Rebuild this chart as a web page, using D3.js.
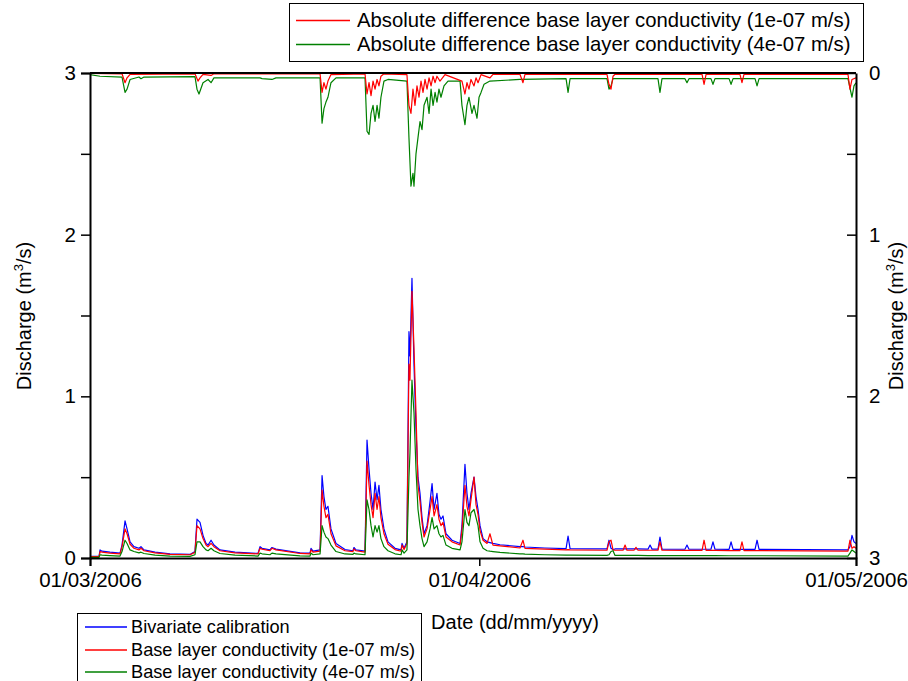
<html><head>
<meta charset="utf-8">
<title>Discharge</title>
<script type="text/javascript" src="https://d3js.org/d3.v7.min.js"></script>
<style>
  body { margin: 0; background: #fff; }
  text { font-family: Arial, "Liberation Sans", sans-serif; }
</style>
</head>
<body>
<div id="chart"></div>
<script>

// ---- data (time in days after 01/03/2006 00:00) ----
var qDay = [0,0.72,0.80,0.96,1.59,2.39,2.55,2.79,2.95,3.19,3.50,3.90,4.06,4.30,5.18,6.37,7.96,8.36,8.52,8.76,9.00,9.24,9.40,9.64,9.87,10.35,11.55,13.38,13.54,13.70,14.33,14.49,14.81,16.72,17.52,17.60,17.76,18.32,18.48,18.63,18.79,18.95,19.19,19.59,20.31,20.94,21.02,21.18,21.90,22.06,22.22,22.38,22.54,22.70,22.86,23.01,23.17,23.41,23.73,24.29,24.77,24.85,25.01,25.24,25.40,25.48,25.64,25.80,25.96,26.12,26.28,26.44,26.60,26.84,27.08,27.24,27.40,27.63,27.79,27.95,28.11,28.35,28.83,29.47,29.62,29.86,30.02,30.18,30.34,30.58,30.74,30.90,31.06,31.30,31.62,31.85,32.09,32.65,34.24,34.48,34.64,36.23,37.91,38.07,38.23,41.17,41.33,41.49,41.65,41.81,42.45,42.61,42.76,43.32,43.48,43.64,44.44,44.60,44.76,45.23,45.39,45.55,47.38,47.54,47.70,48.74,48.90,49.06,49.45,49.61,49.77,50.89,51.05,51.21,51.76,51.92,52.08,52.96,53.12,53.28,60.36,60.52,60.68,60.84,61.00];
var qBiv = [.010,.010,.050,.042,.036,.030,.080,.230,.180,.100,.070,.060,.070,.050,.036,.026,.022,.040,.240,.220,.140,.090,.080,.110,.080,.050,.036,.028,.070,.060,.050,.065,.055,.032,.030,.060,.042,.050,.510,.380,.300,.320,.180,.090,.052,.045,.065,.050,.042,.730,.550,.400,.300,.470,.360,.450,.300,.180,.100,.060,.050,.090,.060,.100,1.400,1.250,1.730,1.200,.800,.500,.400,.250,.150,.200,.350,.460,.300,.400,.270,.240,.260,.150,.110,.090,.200,.580,.400,.300,.400,.500,.380,.300,.200,.120,.100,.095,.090,.082,.070,.070,.068,.062,.058,.135,.058,.056,.110,.060,.052,.056,.056,.056,.056,.056,.056,.056,.055,.080,.055,.055,.130,.055,.054,.080,.054,.054,.054,.054,.054,.100,.054,.053,.100,.053,.053,.053,.053,.053,.110,.053,.050,.070,.140,.100,.090];
var qK1 = [.008,.008,.040,.036,.030,.025,.070,.180,.150,.085,.060,.050,.060,.045,.032,.023,.020,.035,.200,.180,.120,.080,.070,.090,.070,.045,.032,.025,.060,.055,.045,.060,.050,.028,.026,.050,.036,.042,.420,.320,.250,.270,.150,.075,.045,.040,.056,.045,.036,.600,.450,.330,.250,.400,.300,.380,.250,.150,.085,.052,.042,.080,.052,.090,1.200,1.100,1.650,1.300,.900,.450,.350,.220,.130,.180,.300,.380,.260,.330,.240,.200,.220,.130,.100,.080,.170,.450,.320,.260,.360,.500,.330,.270,.170,.110,.090,.150,.080,.075,.062,.110,.060,.055,.050,.052,.050,.048,.100,.110,.050,.048,.048,.080,.048,.048,.066,.048,.048,.048,.048,.048,.100,.048,.047,.047,.047,.047,.110,.047,.047,.047,.047,.046,.046,.046,.046,.100,.046,.046,.046,.046,.042,.110,.060,.070,.060];
var qK4 = [.004,.004,.020,.018,.015,.012,.040,.110,.090,.050,.040,.032,.036,.028,.018,.012,.010,.020,.100,.100,.070,.050,.045,.060,.045,.028,.018,.012,.030,.026,.020,.030,.025,.013,.012,.030,.020,.025,.200,.160,.130,.120,.080,.040,.025,.022,.030,.025,.020,.360,.300,.200,.130,.200,.160,.200,.120,.070,.045,.026,.020,.050,.030,.050,.500,.650,1.100,.900,.550,.300,.200,.120,.070,.100,.180,.250,.180,.200,.150,.130,.140,.080,.060,.050,.100,.300,.220,.200,.280,.300,.250,.200,.100,.060,.045,.042,.040,.035,.025,.025,.024,.020,.018,.018,.018,.016,.020,.040,.045,.016,.016,.016,.016,.016,.016,.016,.015,.015,.015,.015,.015,.015,.015,.015,.015,.015,.015,.015,.015,.015,.015,.014,.014,.014,.014,.014,.014,.014,.014,.014,.012,.030,.050,.040,.030];

// absolute differences (right axis, reversed)
var dDayK4 = [0,0.80,2.55,2.79,2.95,3.19,3.90,4.06,4.30,8.36,8.52,8.68,9.00,9.40,9.64,9.87,13.54,13.70,14.49,14.81,18.32,18.48,18.63,18.79,18.95,19.19,19.59,21.90,22.06,22.22,22.38,22.54,22.70,22.86,23.01,23.17,23.41,23.73,25.24,25.40,25.56,25.72,25.80,25.96,26.12,26.28,26.44,26.60,26.84,27.00,27.16,27.32,27.48,27.63,27.79,27.95,28.19,28.51,29.47,29.62,29.86,30.02,30.18,30.42,30.58,30.82,30.98,31.14,31.38,31.85,34.24,37.91,38.07,38.23,41.17,41.33,41.49,41.65,45.23,45.39,45.55,47.38,47.54,47.70,49.45,49.61,49.77,50.89,51.05,51.21,52.96,53.12,53.28,60.36,60.68,60.84,61.00];
var dK4 = [.010,.020,.025,.120,.100,.040,.025,.035,.025,.022,.100,.130,.060,.040,.060,.030,.030,.035,.040,.030,.030,.310,.220,.180,.150,.060,.030,.030,.360,.380,.250,.200,.300,.200,.280,.150,.050,.040,.050,.400,.700,.620,.700,.500,.400,.300,.350,.200,.150,.250,.100,.200,.120,.180,.100,.150,.080,.050,.050,.200,.320,.200,.150,.250,.200,.280,.150,.120,.070,.050,.040,.035,.120,.035,.035,.100,.080,.035,.035,.120,.035,.035,.060,.035,.035,.070,.035,.035,.070,.035,.035,.080,.035,.035,.150,.080,.060];
var dDayK1 = [0,2.55,2.79,2.95,3.19,8.36,8.60,8.76,9.00,9.64,9.87,18.32,18.48,18.63,18.79,18.95,19.19,21.90,22.06,22.22,22.38,22.54,22.70,22.86,23.01,23.17,23.41,25.24,25.40,25.56,25.72,25.88,26.04,26.20,26.36,26.52,26.68,26.84,27.00,27.16,27.32,27.48,27.63,27.87,28.27,29.62,29.86,30.02,30.18,30.34,30.58,30.74,30.90,31.14,31.85,32.09,34.24,34.48,34.64,41.17,41.33,41.49,41.65,41.81,48.74,48.90,49.06,51.76,51.92,52.08,60.36,60.52,60.68,61.00];
var dK1 = [.003,.005,.060,.030,.008,.005,.050,.030,.008,.015,.005,.005,.120,.060,.100,.050,.010,.005,.130,.060,.140,.050,.100,.040,.080,.020,.005,.010,.200,.250,.100,.200,.080,.150,.050,.120,.040,.100,.030,.080,.020,.060,.020,.050,.010,.050,.130,.060,.100,.040,.080,.030,.060,.010,.030,.008,.008,.060,.008,.008,.070,.100,.020,.008,.008,.070,.008,.008,.060,.008,.008,.100,.040,.030];

var xTicks = ["2006-03-01", "2006-04-01", "2006-05-01"];
var yTicks = [0, 0.5, 1, 1.5, 2, 2.5, 3];

var legendTop = ["Absolute difference base layer conductivity (1e-07 m/s)",
                 "Absolute difference base layer conductivity (4e-07 m/s)"];
var legendBottom = ["Bivariate calibration",
                    "Base layer conductivity (1e-07 m/s)",
                    "Base layer conductivity (4e-07 m/s)"];

// ---- layout ----
var margin = {top: 73, right: 52, bottom: 123, left: 90};
var width = 908 - margin.left - margin.right;
var height = 681 - margin.top - margin.bottom;

var t0 = Date.UTC(2006, 2, 1);
function toDate(d) { return new Date(t0 + d * 86400000); }

var svg = d3.select("#chart")
  .append("svg")
    .attr("width", 908)
    .attr("height", 681);

var g = svg.append("g")
    .attr("transform", "translate(" + margin.left + "," + margin.top + ")");

var x = d3.scaleUtc()
    .domain([new Date(t0), new Date(Date.UTC(2006, 4, 1))])
    .range([0, width]);

var yL = d3.scaleLinear().domain([0, 3]).range([height, 0]);
var yR = d3.scaleLinear().domain([0, 3]).range([0, height]);

g.append("clipPath").attr("id", "clip")
  .append("rect").attr("x", 0).attr("y", -2).attr("width", width).attr("height", height + 4);

var plot = g.append("g").attr("clip-path", "url(#clip)");

function addLine(days, vals, yScale, color) {
  plot.append("path")
    .datum(d3.zip(days, vals))
    .attr("fill", "none")
    .attr("stroke", color)
    .attr("stroke-width", 1.2)
    .attr("stroke-linejoin", "round")
    .attr("d", d3.line()
      .x(function(d) { return x(toDate(d[0])); })
      .y(function(d) { return yScale(d[1]); }));
}

// discharge lines (left axis)
addLine(qDay, qBiv, yL, "#0000ff");
addLine(qDay, qK1, yL, "#ff0000");
addLine(qDay, qK4, yL, "#008000");

// difference lines (right axis)
addLine(dDayK4, dK4, yR, "#008000");
addLine(dDayK1, dK1, yR, "#ff0000");

// ---- axes ----
var fmt = d3.utcFormat("%d/%m/%Y");

var xAxis = g.append("g")
    .attr("transform", "translate(0," + height + ")")
    .call(d3.axisBottom(x)
      .tickValues(xTicks.map(function(s) { return new Date(s + "T00:00:00Z"); }))
      .tickFormat(fmt)
      .tickSizeOuter(0)
      .tickSize(8)
      .tickPadding(6));

var leftAxis = g.append("g")
    .call(d3.axisLeft(yL)
      .tickValues(yTicks)
      .tickFormat(function(d) { return d % 1 === 0 ? d : ""; })
      .tickSizeOuter(0)
      .tickSize(9)
      .tickPadding(5));

var rightAxis = g.append("g")
    .attr("transform", "translate(" + width + ",0)")
    .call(d3.axisRight(yR)
      .tickValues(yTicks)
      .tickFormat(function(d) { return d % 1 === 0 ? d : ""; })
      .tickSizeOuter(0)
      .tickSizeInner(-9)
      .tickPadding(13));

[xAxis, leftAxis, rightAxis].forEach(function(a) {
  a.selectAll("text").style("font-size", "20.5px").attr("fill", "#000");
  a.selectAll("line").attr("stroke", "#000").attr("stroke-width", 1.5);
  a.select(".domain").attr("stroke", "#000").attr("stroke-width", 2);
});

// top frame
g.append("line")
    .attr("x1", 0).attr("x2", width)
    .attr("y1", 0).attr("y2", 0)
    .attr("stroke", "#000").attr("stroke-width", 2);

// axis titles
svg.append("text")
    .attr("x", 515).attr("y", 629)
    .attr("text-anchor", "middle")
    .style("font-size", "20px")
    .text("Date (dd/mm/yyyy)");

function yTitle(cx) {
  var t = svg.append("text")
      .attr("transform", "translate(" + cx + ",316) rotate(-90)")
      .attr("text-anchor", "middle")
      .style("font-size", "20px");
  t.append("tspan").text("Discharge (m");
  t.append("tspan").attr("dy", -8).style("font-size", "13px").text("3");
  t.append("tspan").attr("dy", 8).text("/s)");
}
yTitle(31);
yTitle(903);

// ---- legends ----
var colTop = ["#ff0000", "#008000"];
var lt = svg.append("g");
lt.append("rect")
    .attr("x", 289.5).attr("y", 3.5).attr("width", 574).attr("height", 58)
    .attr("fill", "#fff").attr("stroke", "#000").attr("stroke-width", 1);
legendTop.forEach(function(s, i) {
  lt.append("line")
      .attr("x1", 296).attr("x2", 350)
      .attr("y1", 20.5 + i * 24).attr("y2", 20.5 + i * 24)
      .attr("stroke", colTop[i]).attr("stroke-width", 1.5);
  lt.append("text")
      .attr("x", 357).attr("y", 27 + i * 24)
      .style("font-size", "20.3px")
      .text(s);
});

var colBottom = ["#0000ff", "#ff0000", "#008000"];
var lb = svg.append("g");
lb.append("rect")
    .attr("x", 77.5).attr("y", 613.5).attr("width", 344).attr("height", 80)
    .attr("fill", "#fff").attr("stroke", "#000").attr("stroke-width", 1);
legendBottom.forEach(function(s, i) {
  var ly = Math.round(627 + i * 22.5);
  lb.append("line")
      .attr("x1", 85).attr("x2", 127)
      .attr("y1", ly).attr("y2", ly)
      .attr("stroke", colBottom[i]).attr("stroke-width", 1.5);
  lb.append("text")
      .attr("x", 131).attr("y", 633 + i * 22.5)
      .style("font-size", "18.2px")
      .text(s);
});

</script>
</body></html>
